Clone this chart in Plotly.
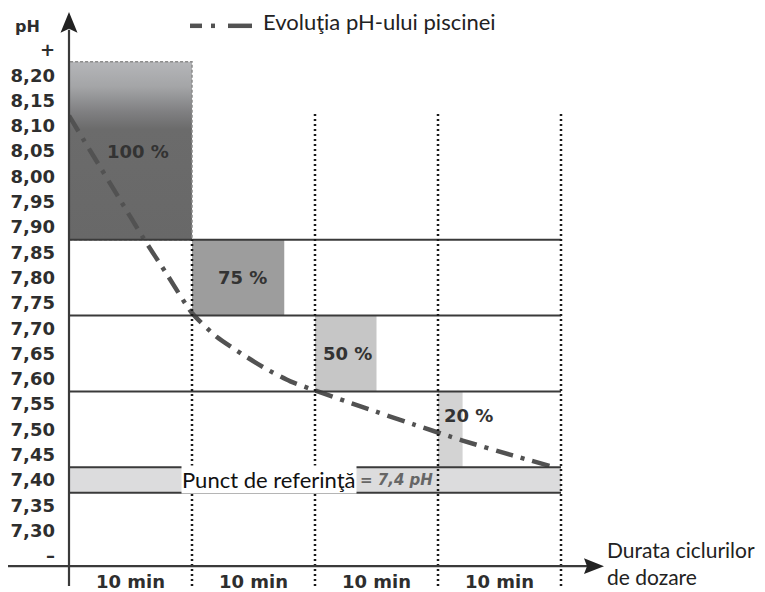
import plotly.graph_objects as go

# ---------------- data ----------------
cycle_start = [0, 10, 20, 30]
cycle_minutes = 10
cycle_labels = ["10 min", "10 min", "10 min", "10 min"]
dose_pct = [100, 75, 50, 20]
dose_labels = ["100 %", "75 %", "50 %", "20 %"]
zone_low = [7.875, 7.725, 7.575, 7.425]
zone_high = [8.227, 7.875, 7.725, 7.575]
setpoint_low = 7.375
setpoint_high = 7.425
setpoint_text = "= 7,4 pH"
curve_min = [0, 2, 4, 6, 8, 10, 12, 14, 16, 18, 20, 24, 28, 32, 36, 39.5]
curve_ph = [8.12, 8.04, 7.96, 7.88, 7.805, 7.73, 7.683, 7.65, 7.62, 7.595,
            7.577, 7.543, 7.51, 7.478, 7.449, 7.425]
ph_tickvals = [7.25, 7.30, 7.35, 7.40, 7.45, 7.50, 7.55, 7.60, 7.65, 7.70, 7.75,
               7.80, 7.85, 7.90, 7.95, 8.00, 8.05, 8.10, 8.15, 8.20, 8.25]
ph_ticktext = ["–", "7,30", "7,35", "7,40", "7,45", "7,50", "7,55", "7,60", "7,65",
               "7,70", "7,75", "7,80", "7,85", "7,90", "7,95", "8,00", "8,05",
               "8,10", "8,15", "8,20", "+"]
legend_text = "Evoluţia pH-ului piscinei"
x_title = "Durata ciclurilor<br>de dozare"
y_title = "pH"
setpoint_label = "Punct de referinţă"

# ---------------- layout geometry ----------------
OFF = 8                      # page body margin of the browser
WIN_W, WIN_H = 765, 592
W, H = WIN_W - OFF, WIN_H - OFF
AXIS_X_PX = 69               # y axis position (window px)
ML = AXIS_X_PX - OFF
PX_PER_MIN = 12.3
PX_PER_PH = 511.1
PH_REF, PH_REF_PX = 8.20, 76
X_RANGE = [0, (WIN_W - AXIS_X_PX) / PX_PER_MIN]
Y_RANGE = [PH_REF - (WIN_H - PH_REF_PX) / PX_PER_PH,
           PH_REF + (PH_REF_PX - OFF) / PX_PER_PH]
AXIS_Y_PX = 572


def px_to_paper_x(px):
    return (px - AXIS_X_PX) / (W - ML)


def py_to_paper_y(py):
    return (WIN_H - py) / H


DARK = "#3a3a3a"
TXT = "#2e2e2e"

fig = go.Figure()

# dosing boxes
box_colors = [None, "#9d9d9d", "#c6c6c6", "#d3d3d3"]
for i, (s, p, lo, hi) in enumerate(zip(cycle_start, dose_pct, zone_low, zone_high)):
    x1 = s + cycle_minutes * p / 100
    xs = [s, x1, x1, s, s]
    ys = [lo, lo, hi, hi, lo]
    if i == 0:
        fig.add_trace(go.Scatter(
            x=xs, y=ys, mode="lines", fill="toself",
            fillgradient=dict(type="vertical",
                              colorscale=[[0, "#686868"], [0.62, "#6b6b6b"],
                                          [0.72, "#808082"], [0.86, "#a4a5a7"],
                                          [1, "#b5b6b9"]]),
            line=dict(color="#8c8c8c", width=1.5, dash="3px,2px"),
            hoverinfo="skip", showlegend=False))
    else:
        fig.add_trace(go.Scatter(
            x=xs, y=ys, mode="lines", fill="toself", fillcolor=box_colors[i],
            line=dict(width=0), hoverinfo="skip", showlegend=False))

# setpoint band
fig.add_trace(go.Scatter(
    x=[0, 40, 40, 0, 0],
    y=[setpoint_low, setpoint_low, setpoint_high, setpoint_high, setpoint_low],
    mode="lines", fill="toself", fillcolor="#dcdcdd", line=dict(width=0),
    hoverinfo="skip", showlegend=False))

# horizontal zone lines
for v in sorted(set(zone_low + [setpoint_low, setpoint_high])):
    fig.add_shape(type="line", x0=0, x1=40, y0=v, y1=v, xref="x", yref="y",
                  line=dict(color=DARK, width=2), layer="above")

# vertical dotted cycle lines
for k, s in enumerate(cycle_start):
    xe = s + cycle_minutes
    top = zone_low[0] if k == 0 else 8.124
    fig.add_shape(type="line", x0=xe, x1=xe, y0=Y_RANGE[0], y1=top,
                  xref="x", yref="y",
                  line=dict(color="#1a1a1a", width=2.5, dash="2px,3px"), layer="above")

# pH evolution curve
fig.add_trace(go.Scatter(
    x=curve_min, y=curve_ph, mode="lines", name=legend_text,
    line=dict(color="#525252", width=4.5, dash="18px,8px,4px,8px", shape="spline",
              smoothing=0.6),
    hoverinfo="skip", showlegend=False))

# percentage labels
lab_dx = [2.9, 1.95, 0.5, 0.3]
lab_dy = [0, 0, 0, 0.027]
for s, lo, hi, t, dx, dy in zip(cycle_start, zone_low, zone_high, dose_labels, lab_dx, lab_dy):
    mid = 8.05 if s == 0 else (lo + hi) / 2
    fig.add_annotation(x=s + dx, y=mid + dy, text=t, showarrow=False, xanchor="left",
                       yanchor="middle",
                       font=dict(family="DejaVu Sans", size=18, color="#333333",
                                 weight="bold"))

# setpoint label
fig.add_annotation(x=9.1, y=7.40, text=setpoint_label, showarrow=False,
                   xanchor="left", yanchor="middle", bgcolor="white", borderpad=0,
                   font=dict(family="Lato", size=22, color="#111111"))
fig.add_annotation(x=23.5, y=7.40, text="<i>" + setpoint_text + "</i>", showarrow=False,
                   xanchor="left", yanchor="middle",
                   font=dict(family="DejaVu Sans", size=15, color="#666666",
                             weight="bold"))

# axes lines and arrows (paper coordinates)
ax_y = py_to_paper_y(AXIS_Y_PX)
fig.add_shape(type="line", xref="paper", yref="paper",
              x0=px_to_paper_x(8), x1=px_to_paper_x(590), y0=ax_y, y1=ax_y,
              line=dict(color=DARK, width=2.2), layer="above")
fig.add_shape(type="line", xref="paper", yref="paper",
              x0=0, x1=0, y0=0, y1=py_to_paper_y(30),
              line=dict(color=DARK, width=2.2), layer="above")


def tri(pts):
    p = " L ".join(f"{px_to_paper_x(a):.5f},{py_to_paper_y(b):.5f}" for a, b in pts)
    return "M " + p + " Z"


fig.add_shape(type="path", xref="paper", yref="paper",
              path=tri([(604, 572), (584, 564), (587, 572), (584, 580)]),
              fillcolor="#222222", line=dict(width=0), layer="above")
fig.add_shape(type="path", xref="paper", yref="paper",
              path=tri([(69, 12), (60.5, 33), (69, 29), (77.5, 33)]),
              fillcolor="#222222", line=dict(width=0), layer="above")

# legend (drawn manually)
for a, b in [(190, 202), (211, 215), (228, 252)]:
    fig.add_shape(type="line", xref="paper", yref="paper",
                  x0=px_to_paper_x(a), x1=px_to_paper_x(b),
                  y0=py_to_paper_y(26), y1=py_to_paper_y(26),
                  line=dict(color="#525252", width=4.5))
fig.add_annotation(xref="paper", yref="paper", x=px_to_paper_x(261),
                   y=py_to_paper_y(22), text=legend_text, showarrow=False,
                   xanchor="left", yanchor="middle",
                   font=dict(family="Lato", size=22, color="#222222"))

# axis titles
fig.add_annotation(xref="paper", yref="paper", x=px_to_paper_x(13),
                   y=py_to_paper_y(27), text="<b>" + y_title + "</b>", showarrow=False,
                   xanchor="left", yanchor="middle",
                   font=dict(family="DejaVu Sans", size=16, color=TXT))
fig.add_annotation(xref="paper", yref="paper", x=px_to_paper_x(605),
                   y=py_to_paper_y(569), text=x_title, showarrow=False,
                   xanchor="left", yanchor="middle", align="left",
                   font=dict(family="Lato", size=21, color="#222222"))

fig.update_layout(
    width=W, height=H, autosize=False,
    margin=dict(l=ML, r=0, t=0, b=0, pad=0),
    paper_bgcolor="white", plot_bgcolor="white",
    showlegend=False,
    xaxis=dict(range=X_RANGE, anchor="free", position=ax_y,
               tickvals=[s + cycle_minutes / 2 for s in cycle_start],
               ticktext=cycle_labels, ticks="", showline=False, showgrid=False,
               zeroline=False, ticklabelstandoff=3,
               tickfont=dict(family="DejaVu Sans", size=18, color=TXT, weight="bold")),
    yaxis=dict(range=Y_RANGE, tickvals=ph_tickvals, ticktext=ph_ticktext,
               ticks="", showline=False, showgrid=False, zeroline=False,
               ticklabelstandoff=13,
               tickfont=dict(family="DejaVu Sans", size=18, color=TXT, weight="bold")),
)

fig.write_html("out.html")
